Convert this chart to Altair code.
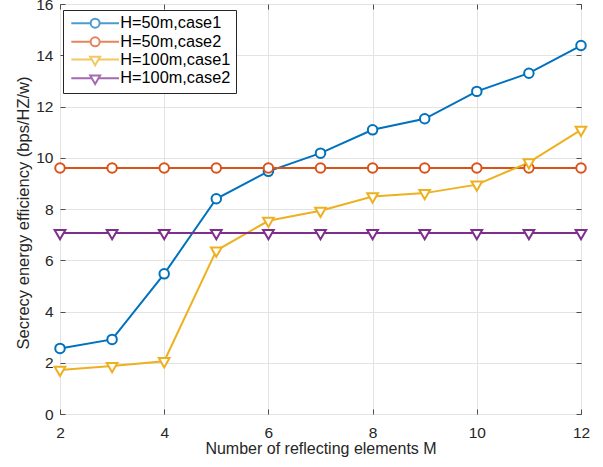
import altair as alt
import pandas as pd

# ---------------- data ----------------
M_values = [2, 3, 4, 5, 6, 7, 8, 9, 10, 11, 12]
h50_case1 = [2.56, 2.91, 5.47, 8.40, 9.47, 10.18, 11.09, 11.52, 12.59, 13.30, 14.38]
h50_case2 = [9.60, 9.60, 9.60, 9.60, 9.60, 9.60, 9.60, 9.60, 9.60, 9.60, 9.60]
h100_case1 = [1.72, 1.87, 2.06, 6.38, 7.54, 7.93, 8.49, 8.62, 8.95, 9.82, 11.09]
h100_case2 = [7.06, 7.06, 7.06, 7.06, 7.06, 7.06, 7.06, 7.06, 7.06, 7.06, 7.06]

series_names = ["H=50m,case1", "H=50m,case2", "H=100m,case1", "H=100m,case2"]
series_colors = ["#0072BD", "#D95319", "#EDB120", "#7E2F8E"]
circle_series = ["H=50m,case1", "H=50m,case2"]
triangle_series = ["H=100m,case1", "H=100m,case2"]

x_ticks = [2, 4, 6, 8, 10, 12]
y_ticks = [0, 2, 4, 6, 8, 10, 12, 14, 16]

x_title = "Number of reflecting elements M"
y_title = "Secrecy energy efficiency (bps/HZ/w)"

rows = []
for name, vals in zip(series_names, [h50_case1, h50_case2, h100_case1, h100_case2]):
    for m, v in zip(M_values, vals):
        rows.append({"M": m, "value": v, "series": name})
df = pd.DataFrame(rows)

# ---------------- styling ----------------
FONT = "Liberation Sans"
AXIS_COLOR = "#4d4d4d"
TEXT_COLOR = "#262626"
GRID_COLOR = "#e3e3e3"
TICK_FS = 15.5

xs = alt.Scale(domain=[2, 12], nice=False, zero=False)
ys = alt.Scale(domain=[0, 16], nice=False, zero=False)
stroke_scale = alt.Scale(domain=series_names, range=series_colors)

# legend glyphs: line segment + marker (circle / downward triangle)
leg_circle = "M-5.3,0H-1M1,0H5.3M-1,0A1,1,0,1,0,1,0A1,1,0,1,0,-1,0Z"
leg_tri = "M-5.3,0H-0.73M0.73,0H5.3M-1.1,-0.635L1.1,-0.635L0,1.27Z"
tri_marker = "M-1,-0.577L1,-0.577L0,1.155Z"

legend_def = alt.Legend(
    title=None,
    orient="none",
    legendX=3,
    legendY=6,
    fillColor="white",
    strokeColor="#262626",
    padding=5,
    symbolSize=81,
    symbolStrokeWidth=2,
    symbolOffset=19,
    labelOffset=17,
    labelFont=FONT,
    labelFontSize=16.3,
    labelColor="#000000",
    rowPadding=0.7,
    symbolFillColor="white",
)

base = alt.Chart(df)

# invisible layer that only carries the legend
legend_layer = base.mark_point(size=0, fill="white", strokeWidth=2).encode(
    x=alt.X("M:Q", scale=xs, axis=None),
    y=alt.Y("value:Q", scale=ys, axis=None),
    stroke=alt.Stroke("series:N", scale=stroke_scale, legend=legend_def),
    shape=alt.Shape(
        "series:N",
        scale=alt.Scale(domain=series_names, range=[leg_circle, leg_circle, leg_tri, leg_tri]),
        legend=legend_def,
    ),
)

# lines with the main (labelled) axes
lines = base.mark_line(strokeWidth=2).encode(
    x=alt.X(
        "M:Q",
        scale=xs,
        axis=alt.Axis(
            orient="bottom", values=x_ticks, grid=True, gridColor=GRID_COLOR, gridWidth=1,
            ticks=False, tickSize=0, domain=False, labelFlush=False, labelOverlap=False,
            labelFont=FONT, labelFontSize=TICK_FS, labelColor=TEXT_COLOR, labelPadding=11.5,
            title=x_title, titleFont=FONT, titleFontSize=16, titleFontWeight="normal",
            titleColor=TEXT_COLOR, titleBaseline="alphabetic", titleY=39.3,
        ),
    ),
    y=alt.Y(
        "value:Q",
        scale=ys,
        axis=alt.Axis(
            orient="left", values=y_ticks, grid=True, gridColor=GRID_COLOR, gridWidth=1,
            ticks=False, tickSize=0, domain=False, labelOverlap=False,
            labelFont=FONT, labelFontSize=TICK_FS, labelColor=TEXT_COLOR, labelPadding=7,
            title=y_title, titleFont=FONT, titleFontSize=16.5, titleFontWeight="normal",
            titleColor=TEXT_COLOR, titleBaseline="alphabetic", titleX=-32, titleY=208.5,
        ),
    ),
    stroke=alt.Stroke("series:N", scale=stroke_scale, legend=None),
    detail="series:N",
)

def tick_axis(orient, values):
    return alt.Axis(
        orient=orient, values=values, grid=False, domain=False, labels=False,
        ticks=True, tickSize=5, tickColor=AXIS_COLOR, tickWidth=1, offset=-5, title=None,
    )

circles = base.mark_point(shape="circle", size=90, fill="white", filled=False,
                          strokeWidth=2, opacity=1).encode(
    x=alt.X("M:Q", scale=xs, axis=tick_axis("bottom", x_ticks)),
    y=alt.Y("value:Q", scale=ys, axis=tick_axis("left", y_ticks)),
    stroke=alt.Stroke("series:N", scale=stroke_scale, legend=None),
).transform_filter(alt.FieldOneOfPredicate(field="series", oneOf=circle_series))

triangles = base.mark_point(shape=tri_marker, size=115, fill="white", filled=False,
                            strokeWidth=2, opacity=1).encode(
    x=alt.X("M:Q", scale=xs, axis=tick_axis("top", x_ticks)),
    y=alt.Y("value:Q", scale=ys, axis=tick_axis("right", y_ticks)),
    stroke=alt.Stroke("series:N", scale=stroke_scale, legend=None),
).transform_filter(alt.FieldOneOfPredicate(field="series", oneOf=triangle_series))

chart = (
    alt.layer(legend_layer, lines, circles, triangles)
    .resolve_axis(x="independent", y="independent")
    .properties(
        width=521,
        height=410,
        autosize=alt.AutoSizeParams(type="none"),
        padding={"left": 60, "top": 4, "right": 22, "bottom": 53},
        background="white",
    )
    .configure_view(stroke=AXIS_COLOR, strokeWidth=1)
)

chart.save("out.html", embed_options={"renderer": "svg", "actions": False})
